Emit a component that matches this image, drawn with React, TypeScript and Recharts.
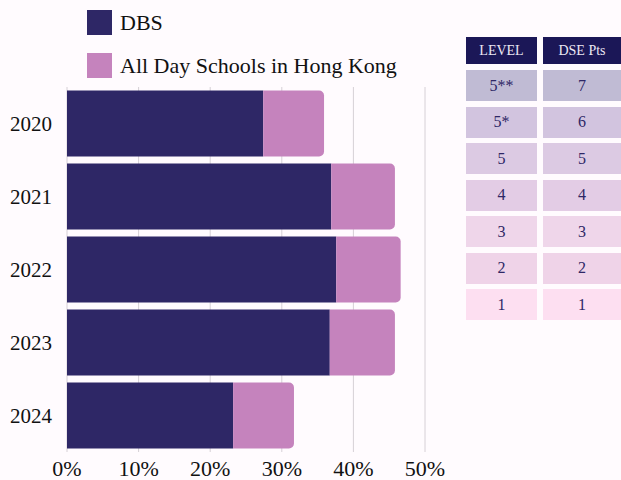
import { BarChart, Bar, XAxis, YAxis, CartesianGrid } from 'recharts';

const years = ['2020', '2021', '2022', '2023', '2024'];
const dbs = [27.4, 36.9, 37.6, 36.7, 23.2];
const allDay = [8.5, 8.9, 9.0, 9.1, 8.5];
const xTicks = [0, 10, 20, 30, 40, 50];

const seriesNames = ['DBS', 'All Day Schools in Hong Kong'];
const seriesColors = ['#2e2766', '#c583bd'];

const levels = ['5**', '5*', '5', '4', '3', '2', '1'];
const dsePts = ['7', '6', '5', '4', '3', '2', '1'];
const rowColors = ['#c0bbd4', '#d2c4df', '#dccae3', '#e3cce5', '#efd6ea', '#efd3e8', '#fddff1'];

const data = years.map((year, i) => ({ year, dbs: dbs[i], allDay: allDay[i] }));

const font = '"Liberation Serif", serif';

function GradeTable() {
  const cell = (text: string, bg: string, left: number, width: number, top: number, header?: boolean) => (
    <div
      key={`${left}-${top}`}
      style={{
        position: 'absolute',
        left,
        top,
        width,
        height: header ? 27 : 31,
        background: bg,
        color: header ? '#ece8f4' : '#2e2766',
        fontSize: header ? 14 : 16,
        fontFamily: font,
        display: 'flex',
        alignItems: 'center',
        justifyContent: 'center',
      }}
    >
      {text}
    </div>
  );
  return (
    <>
      {cell('LEVEL', '#1b1757', 466, 71, 37, true)}
      {cell('DSE Pts', '#1b1757', 543, 78, 37, true)}
      {levels.map((lv, i) => cell(lv, rowColors[i], 466, 71, 70 + i * 36.5))}
      {dsePts.map((p, i) => cell(p, rowColors[i], 543, 78, 70 + i * 36.5))}
    </>
  );
}

export default function App() {
  return (
    <div style={{ position: 'absolute', left: 0, top: 0, width: 621, height: 480, background: '#fffbfe', overflow: 'hidden' }}>
      {seriesNames.map((name, i) => (
        <div key={name} style={{ position: 'absolute', left: 87, top: 10 + i * 43, display: 'flex', alignItems: 'center', height: 25 }}>
          <div style={{ width: 25, height: 25, background: seriesColors[i] }} />
          <span style={{ marginLeft: 8, fontFamily: font, fontSize: 22, color: '#111' }}>{name}</span>
        </div>
      ))}
      <div style={{ position: 'absolute', left: 0, top: 0 }}>
        <BarChart
          width={460}
          height={480}
          data={data}
          layout="vertical"
          margin={{ top: 87, right: 35, bottom: 0, left: 0 }}
          barCategoryGap={3.5}
        >
          <CartesianGrid horizontal={false} stroke="#d6d0d6" />
          <XAxis
            type="number"
            domain={[0, 50]}
            ticks={xTicks}
            tickFormatter={(v) => `${v}%`}
            axisLine={false}
            tickLine={false}
            height={28}
            tick={{ fill: '#111', fontSize: 22, fontFamily: font }}
          />
          <YAxis
            type="category"
            dataKey="year"
            width={67}
            axisLine={false}
            tickLine={false}
            tickMargin={9}
            tick={{ fill: '#111', fontSize: 21, fontFamily: font }}
          />
          <Bar dataKey="dbs" stackId="a" fill={seriesColors[0]} isAnimationActive={false} />
          <Bar dataKey="allDay" stackId="a" fill={seriesColors[1]} radius={[0, 5, 5, 0]} isAnimationActive={false} />
        </BarChart>
      </div>
      <GradeTable />
    </div>
  );
}
